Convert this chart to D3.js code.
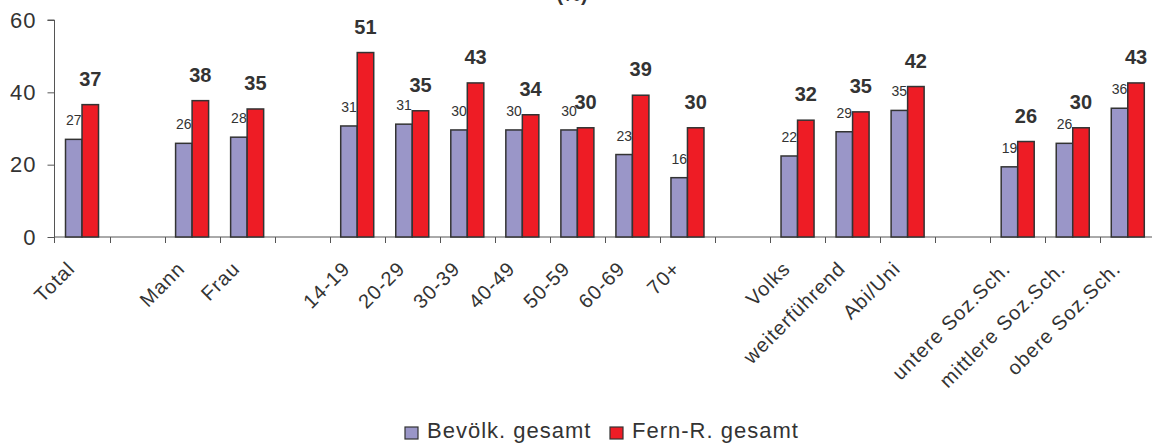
<!DOCTYPE html>
<html>
<head>
<meta charset="utf-8">
<script src="https://cdn.jsdelivr.net/npm/d3@7"></script>
<style>
  html, body { margin: 0; padding: 0; background: #fff; }
  svg { display: block; font-family: "Liberation Sans", Arial, sans-serif; }
</style>
</head>
<body>
<svg id="chart" width="1152" height="448"></svg>
<script>
// ---- data ----
const categories = ["Total", "", "Mann", "Frau", "", "14-19", "20-29", "30-39", "40-49", "50-59", "60-69", "70+", "", "Volks", "weiterführend", "Abi/Uni", "", "untere Soz.Sch.", "mittlere Soz.Sch.", "obere Soz.Sch."];
const bevoelk = [27.0, null, 25.9, 27.6, null, 30.7, 31.2, 29.6, 29.6, 29.6, 22.8, 16.4, null, 22.4, 29.1, 35.0, null, 19.4, 25.9, 35.6];
const fernR   = [36.6, null, 37.7, 35.4, null, 51.0, 34.9, 42.6, 33.8, 30.2, 39.2, 30.2, null, 32.3, 34.6, 41.6, null, 26.4, 30.2, 42.6];
const yTicks = [0, 20, 40, 60];
const seriesNames = ["Bevölk. gesamt", "Fern-R. gesamt"];
const seriesColors = ["#9A96C8", "#EE1C25"];
const titleText = "(%)";

// ---- layout ----
const svg = d3.select("#chart");
const idx = categories.map((d, i) => i);
const x = d3.scaleBand().domain(idx).range([54.5, 54.5 + 20 * 55.04]).padding(0);
const xs = d3.scaleBand().domain([0, 1]).range([0, x.bandwidth()]).paddingInner(0).paddingOuter(0.667);
const y = d3.scaleLinear().domain([0, 60]).range([237, 20]);
const textColor = "#333";

// title (cropped at top, as in the reference)
svg.append("text").attr("x", 572).attr("y", 1).attr("text-anchor", "middle")
  .attr("font-size", 20).attr("font-weight", "bold").attr("fill", textColor).text(titleText);

// y axis
const yAxis = svg.append("g").attr("transform", "translate(54.5,0)")
  .call(d3.axisLeft(y).tickValues(yTicks).tickSize(7).tickPadding(11));
yAxis.selectAll("text").attr("font-size", 22).attr("letter-spacing", 1).attr("fill", textColor)
  .attr("font-family", "Liberation Sans, Arial, sans-serif");
yAxis.selectAll("line").attr("stroke", "#555");
yAxis.select(".domain").attr("stroke", "#555").attr("d", `M-7,${y(60)}H0V${y(0) + 6}`);

// x axis line and ticks at band boundaries
const xg = svg.append("g");
xg.append("line").attr("x1", 54.5).attr("x2", x.range()[1]).attr("y1", y(0)).attr("y2", y(0))
  .attr("stroke", "#555").attr("stroke-width", 1);
xg.selectAll("line.tick").data(idx.slice(1)).join("line").attr("class", "tick")
  .attr("x1", d => Math.round(x(d)) + 0.5).attr("x2", d => Math.round(x(d)) + 0.5)
  .attr("y1", y(0)).attr("y2", y(0) + 6).attr("stroke", "#555");

// bars
const rows = idx.filter(i => bevoelk[i] != null);
const gBars = svg.append("g");
[bevoelk, fernR].forEach((vals, s) => {
  gBars.selectAll(`rect.s${s}`).data(rows).join("rect").attr("class", `s${s}`)
    .attr("x", i => x(i) + xs(s))
    .attr("width", xs.bandwidth())
    .attr("y", i => y(vals[i]))
    .attr("height", i => y(0) - y(vals[i]))
    .attr("fill", seriesColors[s])
    .attr("stroke", "#333").attr("stroke-width", 1.5);
});

// value labels
svg.append("g").selectAll("text").data(rows).join("text")
  .attr("x", i => x(i) + xs(0) + xs.bandwidth() / 2)
  .attr("y", i => y(bevoelk[i]) - 14)
  .attr("text-anchor", "middle").attr("font-size", 14).attr("fill", textColor)
  .text(i => Math.round(bevoelk[i]));
svg.append("g").selectAll("text").data(rows).join("text")
  .attr("x", i => x(i) + xs(1) + xs.bandwidth() / 2)
  .attr("y", i => y(fernR[i]) - 19)
  .attr("text-anchor", "middle").attr("font-size", 20).attr("font-weight", "bold").attr("fill", textColor)
  .text(i => Math.round(fernR[i]));

// category labels
svg.append("g").selectAll("text").data(idx.filter(i => categories[i] !== "")).join("text")
  .attr("transform", i => `translate(${x(i) + x.bandwidth() / 2 - 6},270) rotate(-45)`)
  .attr("text-anchor", "end").attr("font-size", 20).attr("letter-spacing", 1).attr("fill", textColor)
  .text(i => categories[i]);

// legend
const legendX = [405, 610];
const lg = svg.append("g");
seriesNames.forEach((name, s) => {
  lg.append("rect").attr("x", legendX[s]).attr("y", 427).attr("width", 13).attr("height", 12)
    .attr("fill", seriesColors[s]).attr("stroke", "#333").attr("stroke-width", 1.2);
  lg.append("text").attr("x", legendX[s] + 22).attr("y", 438).attr("font-size", 22).attr("letter-spacing", 1)
    .attr("fill", textColor).text(name);
});
</script>
</body>
</html>
